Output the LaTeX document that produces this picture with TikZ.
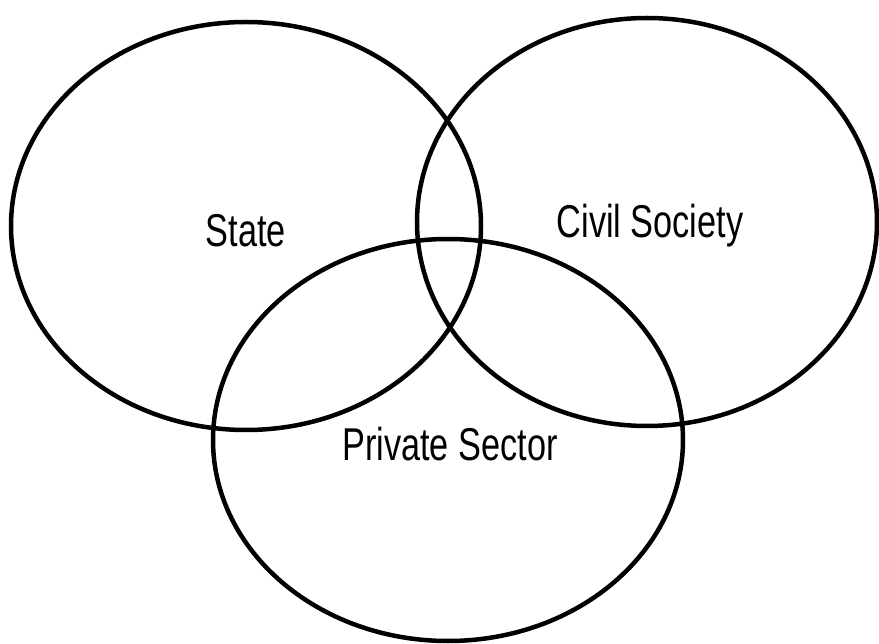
\documentclass[tikz,border=0pt]{standalone}
\usepackage{fontspec}
\setmainfont{Liberation Sans}
\tikzstyle{sector}=[draw=black, line width=4.5pt]
\tikzstyle{label}=[inner sep=0pt, font=\fontsize{46}{46}\selectfont, xscale=0.745]

\begin{document}
\begin{tikzpicture}[x=1pt, y=-1pt]
            \useasboundingbox (0, 0) rectangle (879, 644);
            \draw [style=sector] (246, 226) ellipse [x radius=235, y radius=204];
            \draw [style=sector] (647, 222) ellipse [x radius=230, y radius=204];
            \draw [style=sector] (448, 440) ellipse [x radius=235, y radius=201];
            \node [style=label] (state) at (246, 231) {State};
            \node [style=label] (civil) at (650, 226) {Civil Society};
            \node [style=label] (private) at (450, 444) {Private Sector};
        \end{tikzpicture}
\end{document}
